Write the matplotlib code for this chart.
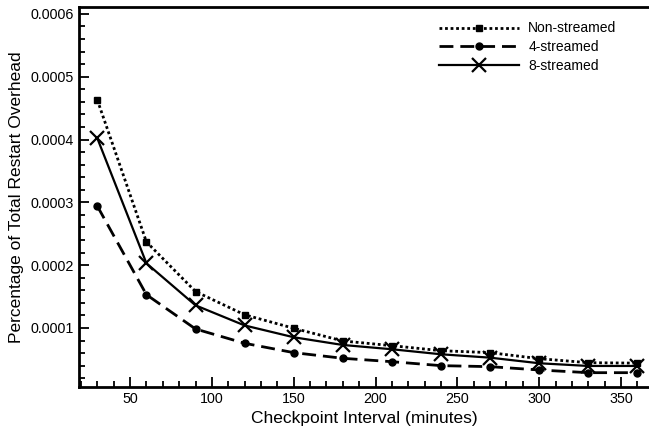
import matplotlib
matplotlib.use("Agg")
import matplotlib.pyplot as plt
from matplotlib.ticker import MultipleLocator, FormatStrFormatter

plt.rcParams['font.family'] = ['Liberation Sans', 'DejaVu Sans']

intervals = [30, 60, 90, 120, 150, 180, 210, 240, 270, 300, 330, 360]
non_streamed = [0.000463, 0.000237, 0.000158, 0.000121, 0.0000995, 0.0000793,
                0.0000718, 0.0000638, 0.0000607, 0.0000511, 0.0000447, 0.0000440]
four_streamed = [0.000294, 0.000153, 0.0000984, 0.0000756, 0.0000607, 0.0000517,
                 0.0000463, 0.0000400, 0.0000384, 0.0000331, 0.0000288, 0.0000288]
eight_streamed = [0.000402, 0.000203, 0.000136, 0.000104, 0.0000852, 0.0000729,
                  0.0000661, 0.0000581, 0.0000527, 0.0000438, 0.0000395, 0.0000395]

fig = plt.figure(figsize=(6.49, 4.37), dpi=100)
W, H = 649, 437
ax = fig.add_axes([79 / W, 1 - 387 / H, (649 - 79) / W, (387 - 7) / H])

ax.plot(intervals, non_streamed, color='black', linestyle=(0, (1, 1)), linewidth=2,
        marker='s', markersize=5, label='Non-streamed')
ax.plot(intervals, four_streamed, color='black', linestyle=(0, (5, 2.5)), linewidth=2,
        marker='o', markersize=5, label='4-streamed')
ax.plot(intervals, eight_streamed, color='black', linestyle='-', linewidth=1.6,
        marker='x', markersize=10, markeredgewidth=1.6, label='8-streamed')

ax.set_xlim(18.8, 367.1)
ax.set_ylim(0.000006, 0.000611)

ax.xaxis.set_major_locator(MultipleLocator(50))
ax.xaxis.set_minor_locator(MultipleLocator(10))
ax.yaxis.set_major_locator(MultipleLocator(0.0001))
ax.yaxis.set_minor_locator(MultipleLocator(0.00002))
ax.yaxis.set_major_formatter(FormatStrFormatter('%.4f'))

ax.tick_params(which='both', direction='in', top=False, right=False, labelsize=10.3, width=1.3)
ax.tick_params(which='major', length=7)
ax.tick_params(which='minor', length=4)

for s in ['left', 'bottom', 'top']:
    ax.spines[s].set_linewidth(2)
ax.spines['right'].set_visible(False)

ax.set_xlabel('Checkpoint Interval (minutes)', fontsize=12.5, labelpad=4)
ax.set_ylabel('Percentage of Total Restart Overhead', fontsize=12.5, labelpad=5)

ax.legend(loc='upper right', bbox_to_anchor=(0.965, 0.995), frameon=False, fontsize=10,
          handlelength=5.7, handletextpad=0.7, labelspacing=0.35)

fig.savefig('out.png', dpi=100)
